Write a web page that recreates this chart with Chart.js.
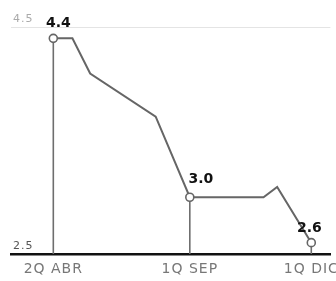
<!DOCTYPE html>
<html>
<head>
<meta charset="utf-8">
<script src="https://cdn.jsdelivr.net/npm/chart.js@4/dist/chart.umd.min.js"></script>
<style>
  html, body { margin: 0; padding: 0; background: #fff; }
  #wrap { width: 336px; height: 281px; }
</style>
</head>
<body>
<div id="wrap"><canvas id="rateChart" width="336" height="281"></canvas></div>
<script>
// positions along the time axis (arbitrary units) and values
var xPos   = [0,   14,  27,   75,   100, 154, 164,  189];
var values = [4.4, 4.4, 4.09, 3.71, 3.0, 3.0, 3.09, 2.6];
// which points get a circle, a stem and a value label
var marked = [true, false, false, false, true, false, false, true];
var labelText = ['4.4', '', '', '', '3.0', '', '', '2.6'];

var xTicks = [0, 100, 189];
var xTickLabels = ['2Q ABR', '1Q SEP', '1Q DIC'];
var yTicks = [2.5, 4.5];

var points = xPos.map(function(x, i) { return { x: x, y: values[i] }; });

// wide-spaced axis text, vertical stems and bold value labels
var markerPlugin = {
    id: 'markers',
    beforeDraw: function(chart) {
        chart.ctx.letterSpacing = '1px';
    },
    beforeDatasetsDraw: function(chart) {
        var ctx = chart.ctx;
        ctx.letterSpacing = '0px';
        var xs = chart.scales.x, ys = chart.scales.y;
        ctx.save();
        ctx.strokeStyle = '#6e6e6e';
        ctx.lineWidth = 1.6;
        for (var i = 0; i < values.length; i++) {
            if (!marked[i]) continue;
            var px = xs.getPixelForValue(xPos[i]);
            ctx.beginPath();
            ctx.moveTo(px, ys.getPixelForValue(values[i]));
            ctx.lineTo(px, ys.getPixelForValue(2.5));
            ctx.stroke();
        }
        ctx.restore();
    },
    afterDatasetsDraw: function(chart) {
        var ctx = chart.ctx;
        var xs = chart.scales.x, ys = chart.scales.y;
        var offsets = [[5, -15], null, null, null, [11, -18], null, null, [-2, -14]];
        ctx.save();
        ctx.fillStyle = '#111';
        ctx.font = 'bold 14px "DejaVu Sans", sans-serif';
        ctx.textAlign = 'center';
        ctx.textBaseline = 'middle';
        for (var i = 0; i < values.length; i++) {
            if (!labelText[i]) continue;
            ctx.fillText(labelText[i],
                xs.getPixelForValue(xPos[i]) + offsets[i][0],
                ys.getPixelForValue(values[i]) + offsets[i][1]);
        }
        ctx.restore();
    }
};

var ctx = document.getElementById('rateChart').getContext('2d');
var chart = new Chart(ctx, {
    type: 'line',
    data: {
        datasets: [{
            data: points,
            borderColor: '#666',
            borderWidth: 2,
            tension: 0,
            pointRadius: marked.map(function(m) { return m ? 4 : 0; }),
            pointBackgroundColor: '#fff',
            pointBorderColor: '#666',
            pointBorderWidth: 1.6
        }]
    },
    options: {
        responsive: false,
        animation: false,
        layout: { padding: { left: 11, right: 3, top: 27, bottom: 0 } },
        plugins: {
            legend: { display: false },
            tooltip: { enabled: false }
        },
        scales: {
            x: {
                type: 'linear',
                min: -31,
                max: 203,
                afterBuildTicks: function(scale) {
                    scale.ticks = xTicks.map(function(v) { return { value: v }; });
                },
                afterFit: function(scale) {
                    scale.height = 27;
                    scale.paddingLeft = 0;
                    scale.paddingRight = 0;
                },
                grid: { display: false, drawTicks: false },
                border: { display: true, color: '#111', width: 2.5 },
                ticks: {
                    padding: 7,
                    color: '#777',
                    maxRotation: 0,
                    font: { family: 'DejaVu Sans', size: 14 },
                    callback: function(value) {
                        var idx = xTicks.indexOf(value);
                        return idx >= 0 ? xTickLabels[idx] : '';
                    }
                }
            },
            y: {
                min: 2.5,
                max: 4.5,
                afterBuildTicks: function(scale) {
                    scale.ticks = yTicks.map(function(v) { return { value: v }; });
                },
                afterFit: function(scale) { scale.width = 0; },
                border: { display: false },
                grid: {
                    drawTicks: false,
                    color: function(c) { return c.tick && c.tick.value === 4.5 ? '#e4e4e4' : 'rgba(0,0,0,0)'; },
                    lineWidth: 1,
                    borderDash: [2, 1]
                },
                ticks: {
                    mirror: true,
                    padding: 2,
                    labelOffset: -8,
                    color: function(c) { return c.tick && c.tick.value === 4.5 ? '#aaa' : '#555'; },
                    font: { family: 'DejaVu Sans', size: 11 },
                    callback: function(value) { return value.toFixed(1); }
                }
            }
        }
    },
    plugins: [markerPlugin]
});
</script>
</body>
</html>
